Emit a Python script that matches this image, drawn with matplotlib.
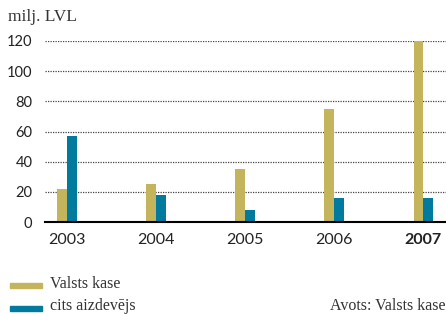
import matplotlib
matplotlib.use("Agg")
import matplotlib.pyplot as plt
from matplotlib.patches import Rectangle
import numpy as np

years = ["2003", "2004", "2005", "2006", "2007"]
valsts_kase = [22, 25, 35, 75, 120]
cits_aizdevejs = [57, 18, 8, 16, 16]
yticks = [0, 20, 40, 60, 80, 100, 120]

gold = "#C4B45C"
blue = "#007B9E"
serif = ["Liberation Serif", "DejaVu Serif"]
sans = ["Lato", "DejaVu Sans"]

W, H = 446, 314
fig = plt.figure(figsize=(W / 100, H / 100), dpi=100)
ax = fig.add_axes([45 / W, (H - 222) / H, (W - 45) / W, 181 / H])

x = np.arange(len(years))
bw = 0.107
ax.bar(x - bw / 2, valsts_kase, width=bw, color=gold, zorder=3, clip_on=False)
ax.bar(x + bw / 2, cits_aizdevejs, width=bw, color=blue, zorder=3, clip_on=False)

ax.set_xlim(-0.247, 4.258)
ax.set_ylim(0, 120)
ax.set_yticks(yticks)
ax.set_yticklabels([str(v) for v in yticks], family=sans, fontsize=10.5, color="#222222")
ax.set_xticks(x)
ax.set_xticklabels(years, family=sans, fontsize=11.5, color="#222222")
ax.get_xticklabels()[-1].set_fontweight("bold")
ax.tick_params(axis="both", length=0)
ax.tick_params(axis="y", pad=9)
ax.tick_params(axis="x", pad=8)

for v in yticks[1:]:
    ax.axhline(v, color="#444444", lw=0.9, ls=(0, (1, 1)), zorder=1)
for s in ["top", "right", "left"]:
    ax.spines[s].set_visible(False)
ax.spines["bottom"].set_linewidth(1.5)
ax.spines["bottom"].set_color("black")
ax.spines["bottom"].set_zorder(4)

fig.text(8 / W, 1 - 17 / H, "milj. LVL", family=serif, fontsize=12.5, color="#333333",
         va="center", ha="left")

# legend
for (yp, yt, col, lab) in [(285, 284, gold, "Valsts kase"), (308.5, 306, blue, "cits aizdevējs")]:
    fig.patches.append(Rectangle((10 / W, 1 - (yp + 2.5) / H), 32 / W, 5 / H,
                                 transform=fig.transFigure, color=col))
    fig.text(50 / W, 1 - yt / H, lab, family=serif, fontsize=11.5, color="#333333",
             va="center", ha="left")
fig.text(446 / W, 1 - 306 / H, "Avots: Valsts kase", family=serif, fontsize=11.5,
         color="#333333", va="center", ha="right")

fig.savefig("out.png", dpi=100)
